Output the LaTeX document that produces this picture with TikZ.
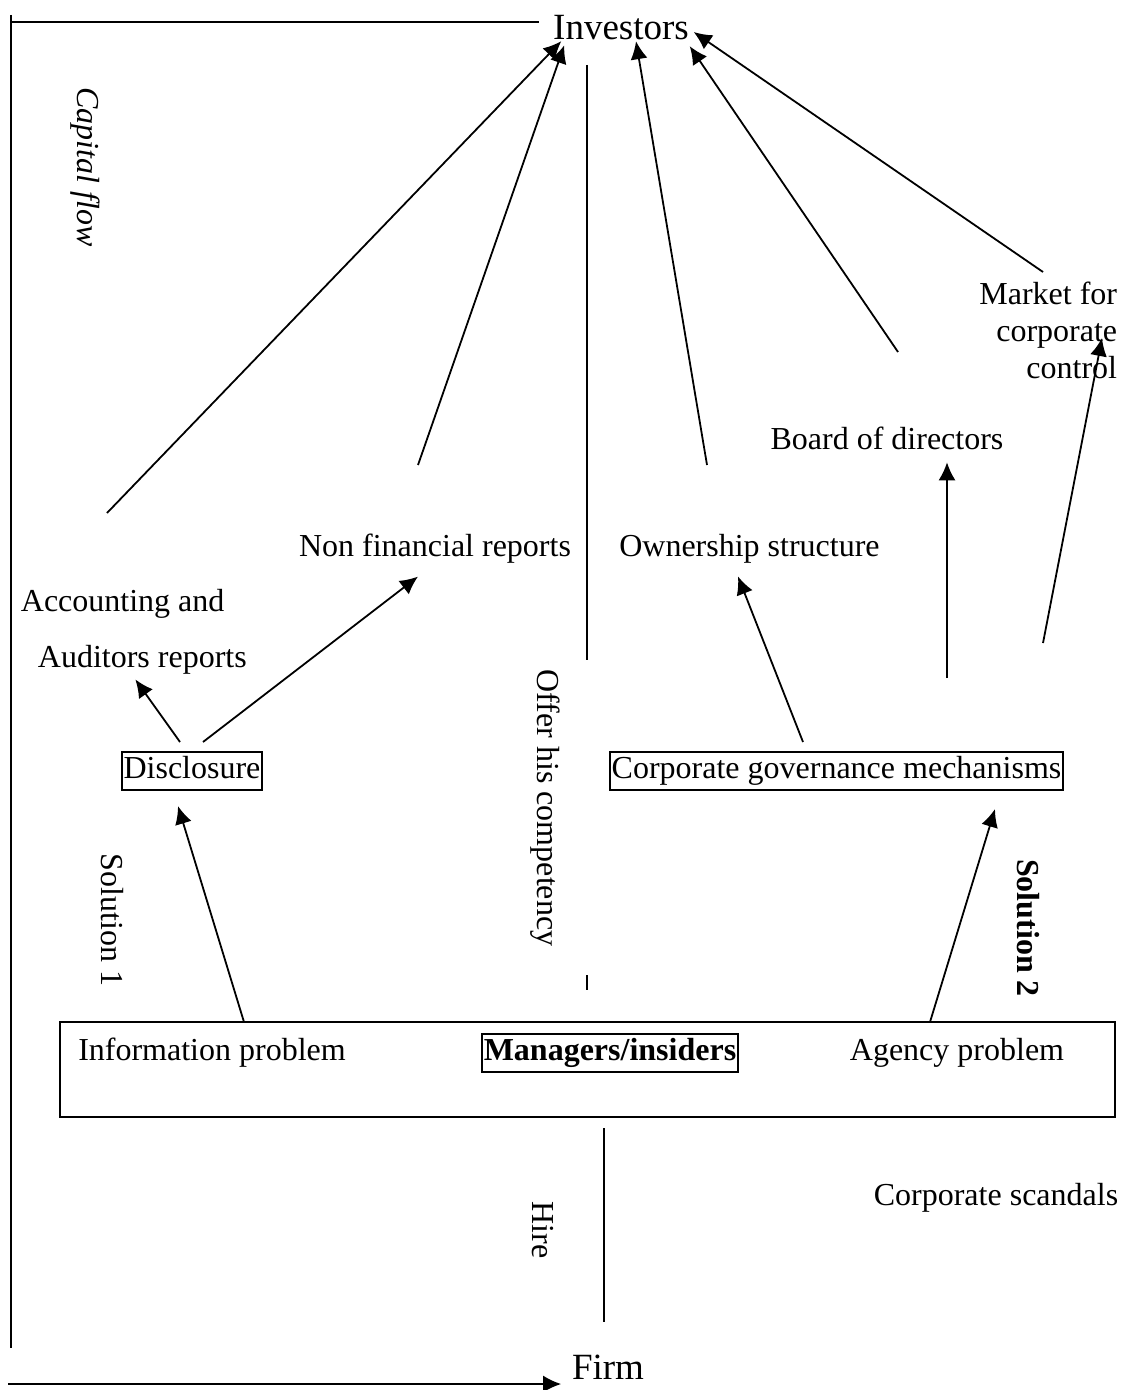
\documentclass[tikz,border=0pt]{standalone}
\usepackage{fontspec}
\setmainfont{Liberation Serif}
\usetikzlibrary{arrows.meta}

\newcommand{\txtsize}{\fontsize{16}{18.5}\selectfont}
\newcommand{\bigsize}{\fontsize{18.5}{22}\selectfont}

\tikzset{
    lbl/.style={font=\txtsize, inner sep=0pt},
    bigl/.style={font=\bigsize, inner sep=0pt},
    boxed/.style={font=\txtsize, draw, inner xsep=0.8pt, inner ysep=2.3pt, text height=11pt, text depth=3.5pt},
    arr/.style={-{Latex[length=9pt,width=8.5pt]}},
}

\begin{document}
\begin{tikzpicture}[x=0.5pt, y=-0.5pt, line width=0.9pt]
    \useasboundingbox (0,0) rectangle (1122,1390);

    % top and bottom
    \node[bigl] (inv) at (621,28) {Investors};
    \node[bigl] (firm) at (608,1367) {Firm};

    % rotated labels
    \node[lbl, font=\txtsize\itshape, rotate=-90] (capflow) at (85,167) {Capital flow};
    \node[lbl, rotate=-90] (offer) at (545,808) {Offer his competency};
    \node[lbl, rotate=-90] (hire) at (543,1230) {Hire};
    \node[lbl, rotate=-90] (sol1) at (112,920) {Solution 1};
    \node[lbl, font=\txtsize\bfseries, rotate=-90] (sol2) at (1028,928) {Solution 2};

    % managers box
    \node[draw, inner sep=0pt, minimum width=527.5pt, minimum height=47.5pt] (mgrbox) at (587.5,1069.5) {};
    \node[lbl] (info) at (212,1053) {Information problem};
    \node[boxed, font=\txtsize\bfseries] (mgr) at (610,1053) {Managers/insiders};
    \node[lbl] (agency) at (957,1053) {Agency problem};
    \node[lbl] (scandal) at (996,1198) {Corporate scandals};

    % solutions
    \node[boxed] (disc) at (192,771) {Disclosure};
    \node[boxed] (cgm) at (836.5,771) {Corporate governance mechanisms};

    % reports and mechanisms
    \node[lbl, anchor=west] (acc) at (20,604) {Accounting and};
    \node[lbl, anchor=west] (aud) at (37,660) {Auditors reports};
    \node[lbl] (nonfin) at (435,549) {Non financial reports};
    \node[lbl] (own) at (749.5,549) {Ownership structure};
    \node[lbl] (board) at (887,438) {Board of directors};
    \node[lbl, anchor=east, align=right] (market) at (1118,330) {Market for\\corporate\\control};

    % free ends
    \coordinate (c1) at (107,513);
    \coordinate (c2) at (418,465);
    \coordinate (c3) at (707,465);
    \coordinate (c4) at (898,352);
    \coordinate (c5) at (1043,272);
    \coordinate (c6) at (947,678);
    \coordinate (c7) at (1043,643);
    \coordinate (o1) at (587,65);
    \coordinate (o2) at (587,660);
    \coordinate (o3) at (587,975);
    \coordinate (o4) at (587,990);
    \coordinate (h1) at (604,1128);
    \coordinate (h2) at (604,1322);
    \coordinate (p1) at (244,1022);
    \coordinate (p2) at (930,1022);

    % frame lines
    \draw (11,15) -- (11,1348);
    \draw (11,22) -- ([shift={(-13,-6)}]inv.west);
    \draw[arr] (8,1384) -- ([shift={(-10,17)}]firm.west);
    \draw (o1) -- (o2);
    \draw (o3) -- (o4);
    \draw (h1) -- (h2);

    % problems to solutions
    \draw[arr] (p1) -- ([shift={(-14,15)}]disc.south);
    \draw[arr] (p2) -- ([shift={(158.5,18)}]cgm.south);

    % disclosure
    \draw[arr] ([shift={(-12,-9)}]disc.north) -- ([shift={(-7,4)}]aud.south);
    \draw[arr] ([shift={(11,-9)}]disc.north) -- ([shift={(-17,12)}]nonfin.south);

    % governance
    \draw[arr] ([shift={(-33.5,-9)}]cgm.north) -- ([shift={(-11.5,12)}]own.south);
    \draw[arr] (c6) -- ([shift={(60,12)}]board.south);
    \draw[arr] (c7) -- ([shift={(-16,8)}]market.east);

    % to investors
    \draw[arr] (c1) -- ([shift={(9,0)}]inv.south west);
    \draw[arr] (c2) -- ([shift={(12,4)}]inv.south west);
    \draw[arr] (c3) -- ([shift={(15,0)}]inv.south);
    \draw[arr] (c4) -- ([shift={(0,5)}]inv.south east);
    \draw[arr] (c5) -- ([shift={(4,4)}]inv.east);
\end{tikzpicture}
\end{document}
